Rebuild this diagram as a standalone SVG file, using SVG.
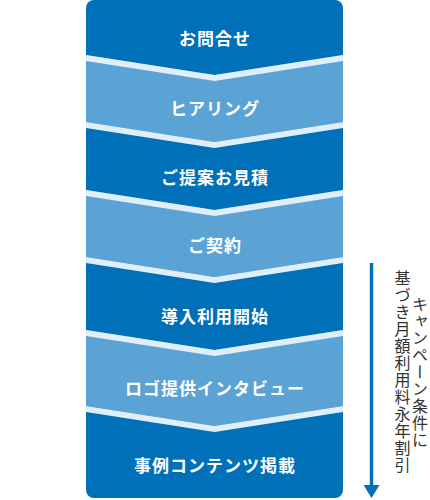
<svg xmlns="http://www.w3.org/2000/svg" width="430" height="500" viewBox="0 0 430 500">
  <style>
    .dark { fill: #0070b9; }
    .light { fill: #5ba3d4; }
    .sep { fill: #e0eef8; }
    .label { font-family: "Noto Sans CJK JP", "Noto Sans", sans-serif; font-weight: bold; font-size: 17px; fill: #ffffff; text-anchor: middle; dominant-baseline: central; letter-spacing: 1px; }
    .note { font-family: "Noto Sans CJK JP", "Noto Sans", sans-serif; font-size: 16px; fill: #333333; writing-mode: vertical-rl; text-anchor: middle; letter-spacing: 1px; }
  </style>
  <defs>
    <marker id="arrowHead" markerUnits="userSpaceOnUse" markerWidth="13" markerHeight="16" refX="0" refY="8" orient="auto" viewBox="0 0 13 16">
      <path d="M0,0 L13,8 L0,16 Z" fill="#0070b9"/>
    </marker>
  </defs>

  <g id="step1">
    <path class="dark" d="M86,8 A8,8 0 0 1 94,0 H335 A8,8 0 0 1 343,8 V61 L214.5,81 L86,61 Z"/>
    <text class="label" x="215" y="37">お問合せ</text>
  </g>
  <g id="step2">
    <path class="light" d="M86,55 L214.5,75 L343,55 V128 L214.5,148 L86,128 Z"/>
    <text class="label" x="215" y="107.5">ヒアリング</text>
  </g>
  <g id="step3">
    <path class="dark" d="M86,122 L214.5,142 L343,122 V196 L214.5,216 L86,196 Z"/>
    <text class="label" x="215" y="176.5">ご提案お見積</text>
  </g>
  <g id="step4">
    <path class="light" d="M86,190 L214.5,210 L343,190 V263 L214.5,283 L86,263 Z"/>
    <text class="label" x="215" y="244">ご契約</text>
  </g>
  <g id="step5">
    <path class="dark" d="M86,257 L214.5,277 L343,257 V336 L214.5,356 L86,336 Z"/>
    <text class="label" x="215" y="315">導入利用開始</text>
  </g>
  <g id="step6">
    <path class="light" d="M86,330 L214.5,350 L343,330 V412 L214.5,432 L86,412 Z"/>
    <text class="label" x="215" y="387">ロゴ提供インタビュー</text>
  </g>
  <g id="step7">
    <path class="dark" d="M86,406 L214.5,426 L343,406 V490 A8,8 0 0 1 335,498 H94 A8,8 0 0 1 86,490 Z"/>
    <text class="label" x="215" y="464">事例コンテンツ掲載</text>
  </g>

  <g id="connectors">
    <path class="sep" d="M86,55 L214.5,75 L343,55 L343,61 L214.5,81 L86,61 Z"/>
    <path class="sep" d="M86,122 L214.5,142 L343,122 L343,128 L214.5,148 L86,128 Z"/>
    <path class="sep" d="M86,190 L214.5,210 L343,190 L343,196 L214.5,216 L86,196 Z"/>
    <path class="sep" d="M86,257 L214.5,277 L343,257 L343,263 L214.5,283 L86,263 Z"/>
    <path class="sep" d="M86,330 L214.5,350 L343,330 L343,336 L214.5,356 L86,336 Z"/>
    <path class="sep" d="M86,406 L214.5,426 L343,406 L343,412 L214.5,432 L86,412 Z"/>
    <line x1="371.5" y1="263" x2="371.5" y2="485" stroke="#0070b9" stroke-width="3.5" marker-end="url(#arrowHead)"/>
  </g>

  <g id="note">
    <text class="note" x="420" y="372">キャンペーン条件に</text>
    <text class="note" x="402.5" y="372">基づき月額利用料永年割引</text>
  </g>
</svg>
